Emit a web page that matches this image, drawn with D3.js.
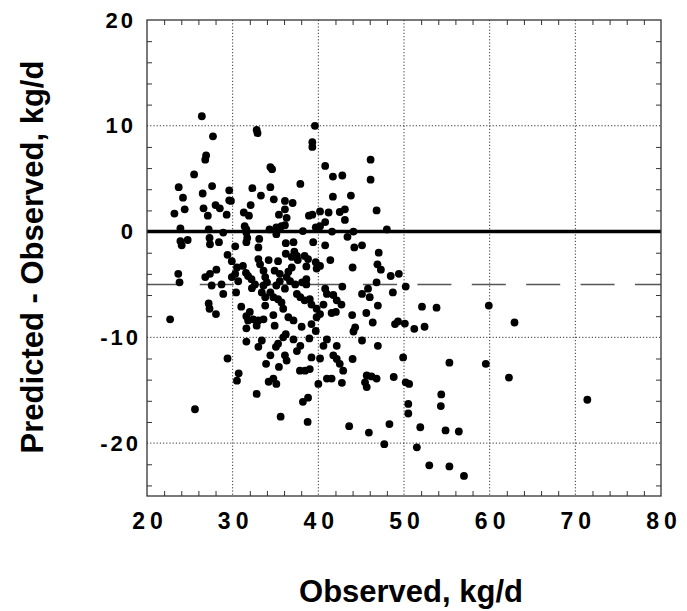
<!DOCTYPE html>
<html>
<head>
<meta charset="utf-8">
<script src="https://cdn.jsdelivr.net/npm/d3@7"></script>
<style>
  body { margin: 0; background: #fff; }
  svg { display: block; font-family: "Liberation Sans", Arial, Helvetica, sans-serif; }
</style>
</head>
<body>
<svg id="chart"></svg>
<script>
// observed intake (kg/d) and predicted - observed (kg/d)
var observed = [
  26.4, 39.6, 32.8, 32.9, 27.7, 39.3, 39.3, 26.9, 26.8, 34.4, 34.6, 40.8, 25.5, 37.9, 23.7, 27.6,
  32.3, 34.4, 29.6, 26.5, 33.3, 24.2, 29.6, 29.8, 34.8, 36.1, 37.0, 28.0, 28.5, 32.1, 24.4, 26.6,
  36.1, 31.3, 31.9, 23.2, 27.1, 29.3, 35.4, 36.3, 38.9, 39.3, 40.2, 41.2, 40.8, 46.1, 41.7, 42.8,
  46.1, 41.7, 43.8, 42.5, 43.1, 46.8, 43.1, 23.9, 27.2, 31.4, 31.6, 35.1, 35.7, 36.1, 38.2, 39.7,
  34.3, 48.0, 40.2, 23.9, 24.05, 24.75, 27.3, 27.35, 28.4, 28.9, 30.3, 31.6, 31.7, 31.6, 33.1, 33.0,
  35.1, 36.2, 37.1, 39.4, 29.4, 29.9, 34.2, 35.3, 36.2, 36.9, 37.2, 37.5, 37.6, 36.9, 36.5, 36.3,
  38.4, 38.8, 38.6, 39.7, 39.8, 23.65, 26.8, 27.35, 28.1, 30.5, 30.3, 29.9, 31.2, 31.55, 31.8, 33.0,
  33.2, 33.6, 33.8, 34.9, 35.5, 41.6, 44.1, 43.4, 40.8, 44.2, 45.1, 47.05, 41.4, 40.2, 44.0, 46.9,
  47.3, 48.45, 49.4, 23.8, 22.7, 25.6, 27.2, 27.3, 28.05, 29.4, 27.55, 28.7, 28.9, 30.4, 30.65, 31.0,
  32.2, 32.6, 32.25, 33.6, 33.4, 33.8, 34.4, 34.75, 35.3, 35.7, 35.9, 33.8, 34.0, 35.1, 35.5, 36.1,
  36.7, 37.3, 38.1, 38.6, 38.6, 37.5, 37.9, 38.4, 39.2, 39.8, 39.0, 40.6, 31.6, 32.0, 31.8, 32.4,
  33.0, 33.6, 32.8, 31.6, 34.75, 34.9, 36.5, 37.1, 38.05, 39.8, 40.2, 39.7, 39.2, 31.6, 33.4, 33.0,
  35.9, 36.2, 37.1, 38.95, 37.5, 37.9, 35.05, 35.3, 40.6, 41.0, 34.4, 33.9, 36.1, 36.3, 35.4, 39.2,
  40.2, 37.85, 38.45, 39.0, 30.7, 30.5, 34.2, 34.75, 35.1, 40.0, 41.0, 32.8, 38.2, 38.8, 35.6, 38.75,
  42.8, 46.8, 50.2, 45.8, 45.1, 46.0, 48.7, 40.8, 41.0, 41.75, 42.15, 42.7, 46.95, 52.1, 53.8, 59.9,
  41.55, 42.05, 43.95, 45.6, 46.35, 48.95, 49.3, 50.1, 51.2, 52.4, 44.3, 44.1, 62.9, 42.15, 45.1, 46.95,
  41.75, 42.15, 42.5, 42.9, 44.0, 49.9, 55.3, 59.55, 62.25, 41.55, 42.75, 45.65, 45.45, 45.65, 46.2, 46.8,
  48.8, 50.2, 50.6, 54.35, 54.3, 50.5, 50.5, 71.4, 43.6, 45.9, 48.3, 51.9, 54.85, 56.4, 47.7, 51.5,
  52.95, 55.3, 57.0
];
var residual = [
  10.9, 10.0, 9.6, 9.3, 9.0, 8.45, 8.0, 7.2, 6.8, 6.1, 5.9, 6.2, 5.4, 4.5, 4.2, 4.3,
  4.1, 4.2, 3.9, 3.6, 3.4, 3.2, 2.95, 2.9, 3.05, 2.9, 2.7, 2.5, 2.2, 2.5, 2.1, 2.2,
  2.1, 1.8, 1.5, 1.7, 1.5, 1.6, 1.6, 1.3, 1.5, 1.6, 1.9, 1.8, 0.9, 6.8, 5.2, 5.3,
  4.9, 3.3, 3.4, 1.85, 2.1, 2.0, 1.1, 0.3, 0.2, 0.5, 0.2, 0.4, 0.5, 0.6, 0.05, 0.4,
  0.2, 0.2, 0.5, -0.9, -1.3, -0.8, -0.6, -1.2, -1.0, -0.1, -1.4, -0.1, -0.6, -1.0, -0.7, -1.5,
  -0.25, -1.1, -1.0, -1.0, -2.2, -2.8, -2.7, -2.8, -2.1, -2.4, -1.9, -2.3, -2.7, -3.4, -3.8, -4.3,
  -2.3, -2.6, -3.3, -2.9, -3.5, -4.0, -4.3, -4.0, -3.6, -3.4, -4.0, -4.3, -3.25, -3.9, -4.2, -2.6,
  -3.1, -3.7, -4.3, -3.7, -4.0, 0.0, 0.0, -0.5, -1.3, -1.5, -1.3, -2.0, -2.7, -3.25, -3.4, -3.1,
  -3.6, -4.2, -4.0, -4.8, -8.3, -16.8, -6.8, -7.3, -7.8, -12.0, -5.1, -5.0, -5.9, -5.75, -4.7, -7.1,
  -4.5, -5.0, -5.35, -5.1, -5.75, -6.2, -5.75, -6.2, -6.4, -6.7, -7.3, -7.0, -4.8, -5.1, -4.7, -5.4,
  -4.7, -5.0, -4.8, -4.5, -5.0, -5.9, -6.2, -6.5, -6.9, -7.3, -6.4, -6.9, -8.0, -7.6, -8.4, -8.3,
  -8.4, -8.3, -8.9, -9.15, -7.9, -8.9, -8.1, -8.4, -9.0, -8.1, -7.8, -9.4, -8.75, -10.4, -10.3, -10.9,
  -10.0, -9.7, -10.2, -10.1, -11.3, -10.8, -10.9, -10.6, -10.8, -10.2, -11.7, -12.5, -11.7, -12.2, -12.8, -11.9,
  -12.0, -13.15, -13.15, -13.0, -13.4, -14.1, -14.2, -13.9, -14.4, -14.4, -13.9, -15.35, -16.1, -15.7, -17.5, -18.0,
  -5.2, -4.8, -5.2, -5.4, -5.9, -6.2, -5.75, -5.4, -5.9, -6.0, -6.5, -6.9, -7.0, -7.1, -7.2, -7.0,
  -7.7, -7.6, -7.9, -7.7, -8.6, -8.75, -8.5, -8.7, -9.2, -9.0, -9.05, -9.45, -8.6, -10.8, -10.3, -10.8,
  -11.7, -12.05, -12.5, -13.15, -12.05, -11.9, -12.4, -12.5, -13.8, -13.9, -14.3, -13.6, -14.25, -14.7, -13.7, -13.9,
  -13.75, -14.25, -14.4, -15.4, -16.5, -16.3, -17.2, -15.9, -18.4, -19.0, -18.2, -18.5, -18.8, -18.9, -20.1, -20.4,
  -22.1, -22.2, -23.1
];
var xTicks = [20, 30, 40, 50, 60, 70, 80];
var yTicks = [-20, -10, 0, 10, 20];
var meanBias = -5;   // dashed reference line

var W = 687, H = 611;
var margin = { top: 20, right: 26, bottom: 115, left: 147 };
var width = W - margin.left - margin.right,
    height = H - margin.top - margin.bottom;

var svg = d3.select("#chart").attr("width", W).attr("height", H);
var g = svg.append("g").attr("transform", "translate(" + margin.left + "," + margin.top + ")");

var x = d3.scaleLinear().domain([20, 80]).range([0, width]);
var y = d3.scaleLinear().domain([-25, 20]).range([height, 0]);

// dotted grid
g.selectAll(".vgrid").data(xTicks.slice(1, -1)).enter().append("line")
  .attr("x1", d => x(d)).attr("x2", d => x(d))
  .attr("y1", 0).attr("y2", height)
  .attr("stroke", "#333").attr("stroke-width", 1).attr("stroke-dasharray", "1.2,2");
g.selectAll(".hgrid").data([-20, -10, 10]).enter().append("line")
  .attr("x1", 0).attr("x2", width)
  .attr("y1", d => y(d)).attr("y2", d => y(d))
  .attr("stroke", "#333").attr("stroke-width", 1).attr("stroke-dasharray", "1.2,2");

// dashed line at mean bias
g.append("line")
  .attr("x1", 0).attr("x2", width)
  .attr("y1", y(meanBias)).attr("y2", y(meanBias))
  .attr("stroke", "#555").attr("stroke-width", 1.6)
  .attr("stroke-dasharray", "34,20.4").attr("stroke-dashoffset", 1.6);

// zero line
g.append("line")
  .attr("x1", 0).attr("x2", width)
  .attr("y1", y(0)).attr("y2", y(0))
  .attr("stroke", "#000").attr("stroke-width", 3.5);

// minor ticks on all four sides, pointing inward
var minorX = d3.range(22, 80, 2).filter(d => d % 10 !== 0);
var minorY = d3.range(-24, 20, 2).filter(d => d % 10 !== 0);
function noLabels(sel) { sel.select(".domain").remove(); sel.selectAll("text").remove(); sel.selectAll("line").attr("stroke", "#333"); }
g.append("g").attr("transform", "translate(0," + height + ")")
  .call(d3.axisBottom(x).tickValues(minorX).tickSize(-5)).call(noLabels);
g.append("g")
  .call(d3.axisTop(x).tickValues(minorX).tickSize(-5)).call(noLabels);
g.append("g")
  .call(d3.axisLeft(y).tickValues(minorY).tickSize(-5)).call(noLabels);
g.append("g").attr("transform", "translate(" + width + ",0)")
  .call(d3.axisRight(y).tickValues(minorY).tickSize(-5)).call(noLabels);

// frame
g.append("rect").attr("width", width).attr("height", height)
  .attr("fill", "none").attr("stroke", "#333").attr("stroke-width", 1.3);

// points
g.selectAll(".pt").data(observed).enter().append("circle")
  .attr("class", "pt")
  .attr("cx", d => x(d))
  .attr("cy", (d, i) => y(residual[i]))
  .attr("r", 3.9)
  .attr("fill", "#000");

// tick labels (plain hyphen for negatives, as in the original)
var plain = d => String(d);
var xa = g.append("g").attr("transform", "translate(0," + height + ")")
  .call(d3.axisBottom(x).tickValues(xTicks).tickSize(0).tickPadding(17).tickFormat(plain));
xa.select(".domain").remove();
xa.selectAll("text")
  .attr("fill", "#000").attr("font-size", 23).attr("font-weight", "bold")
  .attr("dx", 2.5).style("letter-spacing", "5px")
  .style("font-family", "'Liberation Sans', Arial, sans-serif");

var ya = g.append("g")
  .call(d3.axisLeft(y).tickValues(yTicks).tickSize(0).tickPadding(14).tickFormat(plain));
ya.select(".domain").remove();
ya.selectAll("text")
  .attr("fill", "#000").attr("font-size", 22).attr("font-weight", "bold")
  .attr("dx", d => d < 0 ? 8 : 3).style("letter-spacing", "3px")
  .style("font-family", "'Liberation Sans', Arial, sans-serif");

// axis titles
svg.append("text")
  .attr("x", 411).attr("y", 602)
  .attr("text-anchor", "middle")
  .attr("font-size", 31).attr("font-weight", "bold")
  .text("Observed, kg/d");

svg.append("text")
  .attr("transform", "translate(43,257) rotate(-90)")
  .attr("text-anchor", "middle")
  .attr("font-size", 31).attr("font-weight", "bold")
  .text("Predicted - Observed, kg/d");
</script>
</body>
</html>
